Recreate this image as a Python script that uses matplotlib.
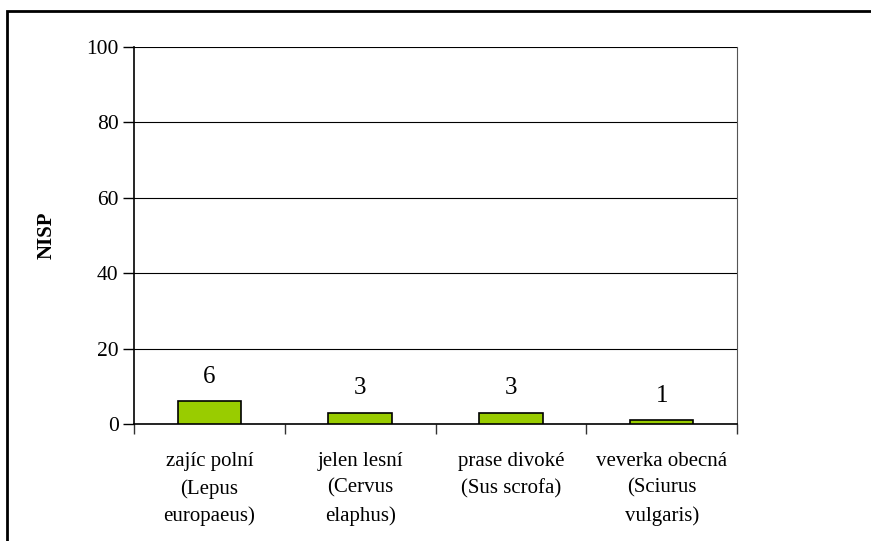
import matplotlib
matplotlib.use("Agg")
import matplotlib.pyplot as plt
from matplotlib.patches import Rectangle

categories = ["zajíc polní\n(Lepus\neuropaeus)", "jelen lesní\n(Cervus\nelaphus)",
              "prase divoké\n(Sus scrofa)", "veverka obecná\n(Sciurus\nvulgaris)"]
values = [6, 3, 3, 1]
y_ticks = [0, 20, 40, 60, 80, 100]
y_label = "NISP"

plt.rcParams['font.family'] = ['Liberation Serif', 'DejaVu Serif']

W, H = 871, 541
fig = plt.figure(figsize=(W / 100, H / 100), dpi=100)
# outer chart border (top & left visible, right/bottom clipped)
fig.patches.append(Rectangle((7 / W, -0.05), 1.2, (H - 11) / H + 0.05, transform=fig.transFigure,
                             fill=False, edgecolor='black', linewidth=2))

left, right, top, bottom = 134, 737, 47, 424
ax = fig.add_axes([left / W, 1 - bottom / H, (right - left) / W, (bottom - top) / H])

x = list(range(len(values)))
ax.bar(x, values, width=0.42, color='#99CC00', edgecolor='black', linewidth=1.2, zorder=3)
for xi, v in zip(x, values):
    ax.text(xi, v + 3.6, str(v), ha='center', va='bottom', fontsize=18)

ax.set_xlim(-0.5, len(values) - 0.5)
ax.set_ylim(0, 100)
ax.set_yticks(y_ticks)
ax.set_yticklabels([str(t) for t in y_ticks], fontsize=15.5)
ax.yaxis.grid(True, color='black', linewidth=0.8, zorder=0)
ax.set_axisbelow(True)

ax.set_xticks([i - 0.5 for i in range(len(values) + 1)], minor=False)
ax.set_xticklabels([])
ax.set_xticks(x, minor=True)
ax.set_xticklabels(categories, minor=True, fontsize=15, linespacing=1.55)
ax.tick_params(axis='x', which='minor', length=0, pad=20)
ax.tick_params(axis='x', which='major', length=7, width=1, direction='out', color='#333333')
ax.tick_params(axis='y', length=8, width=1, direction='out', pad=3)

ax.spines['top'].set_visible(False)
ax.spines['right'].set_color('#555555')
ax.spines['left'].set_linewidth(1.2)
ax.spines['bottom'].set_linewidth(1.2)

ax.set_ylabel(y_label, fontsize=15, fontweight='bold')
ax.yaxis.set_label_coords(-0.128, 0.5)

fig.savefig("out.png", dpi=100)
